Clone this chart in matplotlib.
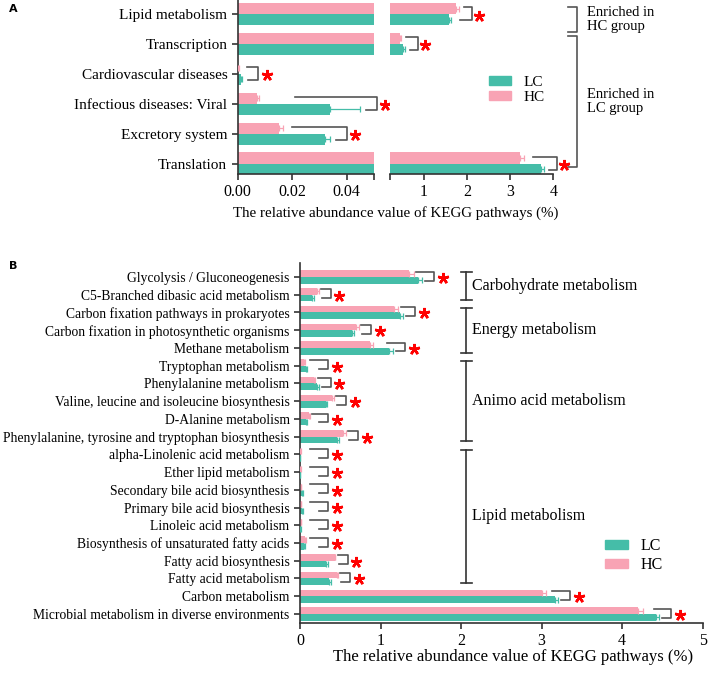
import matplotlib
matplotlib.use("Agg")
import matplotlib.pyplot as plt
import numpy as np
from matplotlib.patches import Patch
from matplotlib.lines import Line2D
import matplotlib.transforms as mtransforms

plt.rcParams['font.family'] = ['Liberation Serif', 'DejaVu Serif']

TEAL = '#45BDA8'
PINK = '#F8A3B4'
GRAY = '#555555'
AXC = '#333333'

# ---------------- Panel A data (top to bottom) ----------------
a_labels = ["Lipid metabolism", "Transcription", "Cardiovascular diseases",
            "Infectious diseases: Viral", "Excretory system", "Translation"]
a_lc = [1.58, 0.52, 0.0012, 0.034, 0.032, 3.72]
a_lc_err = [0.04, 0.03, 0.0004, 0.011, 0.002, 0.06]
a_hc = [1.75, 0.44, 0.0002, 0.007, 0.015, 3.23]
a_hc_err = [0.06, 0.02, 0.0001, 0.0008, 0.0018, 0.10]
a_groups = [("Enriched in\nHC group", 0, 0), ("Enriched in\nLC group", 1, 5)]

# ---------------- Panel B data (top to bottom) ----------------
b_labels = ["Glycolysis / Gluconeogenesis",
            "C5-Branched dibasic acid metabolism",
            "Carbon fixation pathways in prokaryotes",
            "Carbon fixation in photosynthetic organisms",
            "Methane metabolism",
            "Tryptophan metabolism",
            "Phenylalanine metabolism",
            "Valine, leucine and isoleucine biosynthesis",
            "D-Alanine metabolism",
            "Phenylalanine, tyrosine and tryptophan biosynthesis",
            "alpha-Linolenic acid metabolism",
            "Ether lipid metabolism",
            "Secondary bile acid biosynthesis",
            "Primary bile acid biosynthesis",
            "Linoleic acid metabolism",
            "Biosynthesis of unsaturated fatty acids",
            "Fatty acid biosynthesis",
            "Fatty acid metabolism",
            "Carbon metabolism",
            "Microbial metabolism in diverse environments"]
b_lc = [1.47, 0.15, 1.24, 0.64, 1.10, 0.08, 0.21, 0.32, 0.075, 0.46,
        0.004, 0.004, 0.03, 0.03, 0.005, 0.05, 0.32, 0.36, 3.17, 4.42]
b_lc_err = [0.04, 0.02, 0.04, 0.03, 0.05, 0.01, 0.02, 0.02, 0.01, 0.02,
            0.002, 0.002, 0.005, 0.005, 0.002, 0.01, 0.03, 0.02, 0.03, 0.04]
b_hc = [1.35, 0.21, 1.17, 0.70, 0.87, 0.05, 0.18, 0.40, 0.11, 0.54,
        0.006, 0.005, 0.012, 0.012, 0.007, 0.06, 0.43, 0.46, 3.00, 4.20]
b_hc_err = [0.06, 0.02, 0.05, 0.03, 0.04, 0.01, 0.01, 0.02, 0.01, 0.03,
            0.002, 0.002, 0.003, 0.003, 0.002, 0.01, 0.01, 0.01, 0.06, 0.06]
b_groups = [("Carbohydrate metabolism", 0, 1), ("Energy metabolism", 2, 4),
            ("Animo acid metabolism", 5, 9), ("Lipid metabolism", 10, 17)]

W, H = 708, 676
fig = plt.figure(figsize=(W / 100, H / 100), dpi=100)


def rect(x0, y0, x1, y1):
    # pixel box -> figure fraction
    return [x0 / W, 1 - y1 / H, (x1 - x0) / W, (y1 - y0) / H]


def style(ax, fs):
    for s in ['top', 'right']:
        ax.spines[s].set_visible(False)
    for s in ['left', 'bottom']:
        ax.spines[s].set_color(AXC)
        ax.spines[s].set_linewidth(1.2)
    ax.tick_params(axis='both', colors=AXC, width=1.2, length=4, labelsize=fs,
                   labelcolor='black')


def bars(ax, y, lc, lce, hc, hce, bh=0.37):
    ax.barh(y + bh / 2, hc, height=bh, color=PINK, zorder=2)
    ax.barh(y - bh / 2, lc, height=bh, color=TEAL, zorder=2)
    ax.errorbar(hc, y + bh / 2, xerr=[np.zeros(len(hc)), hce], fmt='none',
                ecolor=PINK, elinewidth=0.9, capsize=2, capthick=0.9, zorder=3)
    ax.errorbar(lc, y - bh / 2, xerr=[np.zeros(len(lc)), lce], fmt='none',
                ecolor=TEAL, elinewidth=0.9, capsize=2, capthick=0.9, zorder=3)


def sig(ax, y, hc_end, lc_end, add, span, gap_top, gap_bot, star_dx, up=0.22, dn=0.2, mn=0.0):
    bx = max(max(hc_end, lc_end) + add, mn)
    x_top = max(hc_end + gap_top, bx - span)
    x_bot = max(lc_end + gap_bot, bx - span * 0.5)
    ax.plot([x_top, bx, bx, x_bot], [y + up, y + up, y - dn, y - dn],
            color=GRAY, lw=1.2, clip_on=False, zorder=4)
    ax.plot([bx + star_dx], [y - 0.05], marker=(5, 2, 0), markersize=8, mew=1.8,
            color='red', linestyle='none', clip_on=False, zorder=5)


# ================= Panel A =================
nA = len(a_labels)
yA = np.arange(nA)[::-1].astype(float)
a_lc_a, a_hc_a = np.array(a_lc), np.array(a_hc)
a_lce, a_hce = np.array(a_lc_err), np.array(a_hc_err)

axL = fig.add_axes(rect(237.7, 0, 374, 174))
axR = fig.add_axes(rect(389.5, 0, 553.3, 174))
for ax in (axL, axR):
    bars(ax, yA, a_lc_a, a_lce, a_hc_a, a_hce)
    ax.set_ylim(-0.35, 5.47)
    style(ax, 11.5)

axL.set_xlim(0, 0.05)
axL.set_xticks([0, 0.02, 0.04, 0.05])
axL.set_xticklabels(["0.00", "0.02", "0.04", ""])
axL.set_yticks(yA)
axL.set_yticklabels(a_labels, fontsize=11)

axR.set_xlim(0.2, 4)
axR.set_xticks([0.2, 1, 2, 3, 4])
axR.set_xticklabels(["", "1", "2", "3", "4"])
axR.spines['left'].set_visible(False)
axR.set_yticks([])

for i in range(nA):
    he = a_hc[i] + a_hc_err[i]
    le = a_lc[i] + a_lc_err[i]
    if max(he, le) < 0.05:
        sig(axL, yA[i], he, le, 0.006, 0.03, 0.003, 0.002, 0.003)
    else:
        sig(axR, yA[i], he, le, 0.3, 0.55, 0.12, 0.12, 0.17)

fig.text(395.5 / W, 1 - 213 / H, "The relative abundance value of KEGG pathways (%)",
         ha='center', va='center', fontsize=10.8)

# group brackets (axes x, data y)
trA = mtransforms.blended_transform_factory(axR.transAxes, axR.transData)
for txt, i0, i1 in a_groups:
    y0, y1 = yA[i0] + 0.25, yA[i1] - 0.1
    if i0 == 0:
        y1 = yA[i1] - 0.6
    axR.add_line(Line2D([1.09, 1.145, 1.145, 1.09], [y0, y0, y1, y1], transform=trA,
                        color=GRAY, lw=1.2, clip_on=False))
    axR.text(1.205, (y0 + y1) / 2, txt, transform=trA, ha='left', va='center',
             fontsize=10.5, linespacing=1.05)

fig.legend(handles=[Patch(color=TEAL, label='LC'), Patch(color=PINK, label='HC')],
           loc='upper left', bbox_to_anchor=(489 / W, 1 - 76 / H), frameon=False,
           fontsize=11, handlelength=1.45, handleheight=0.55, handletextpad=0.8,
           labelspacing=0.1, borderpad=0, borderaxespad=0)

# ================= Panel B =================
nB = len(b_labels)
yB = np.arange(nB)[::-1].astype(float)
axB = fig.add_axes(rect(300, 263, 702.7, 623))
bars(axB, yB, np.array(b_lc), np.array(b_lc_err), np.array(b_hc), np.array(b_hc_err))
axB.set_ylim(-0.51, 19.79)
axB.set_xlim(0, 5)
style(axB, 11.5)
axB.set_xticks([0, 1, 2, 3, 4, 5])
axB.set_yticks(yB)
axB.set_yticklabels(b_labels, fontsize=9.8)
axB.set_xlabel("The relative abundance value of KEGG pathways (%)", fontsize=12)
axB.xaxis.set_label_coords((513 - 300) / 402.7, -(657 - 623) / 360)
axB.xaxis.label.set_va('center')

for i in range(nB):
    he = b_hc[i] + b_hc_err[i]
    le = b_lc[i] + b_lc_err[i]
    sig(axB, yB[i], he, le, 0.15, 0.22, 0.03, 0.04, 0.11, up=0.3, dn=0.2, mn=0.35)

for txt, i0, i1 in b_groups:
    y0, y1 = yB[i0] + 0.27, yB[i1] - 0.27
    axB.plot([2.065, 2.065], [y0, y1], color=AXC, lw=1.2, clip_on=False)
    for yy in (y0, y1):
        axB.plot([2.0, 2.13], [yy, yy], color=AXC, lw=1.2, clip_on=False)
    axB.text(2.135, (yB[i0] + yB[i1]) / 2, txt, ha='left', va='center', fontsize=11.5)

fig.legend(handles=[Patch(color=TEAL, label='LC'), Patch(color=PINK, label='HC')],
           loc='upper left', bbox_to_anchor=(605 / W, 1 - 538 / H), frameon=False,
           fontsize=11.5, handlelength=1.45, handleheight=0.5, handletextpad=0.75,
           labelspacing=0.2, borderpad=0, borderaxespad=0)

fig.text(9 / W, 1 - 9 / H, "A", fontweight='bold', family='DejaVu Sans', fontsize=8,
         ha='left', va='center')
fig.text(9 / W, 1 - 266 / H, "B", fontweight='bold', family='DejaVu Sans', fontsize=8,
         ha='left', va='center')

fig.savefig("out.png", dpi=100)
